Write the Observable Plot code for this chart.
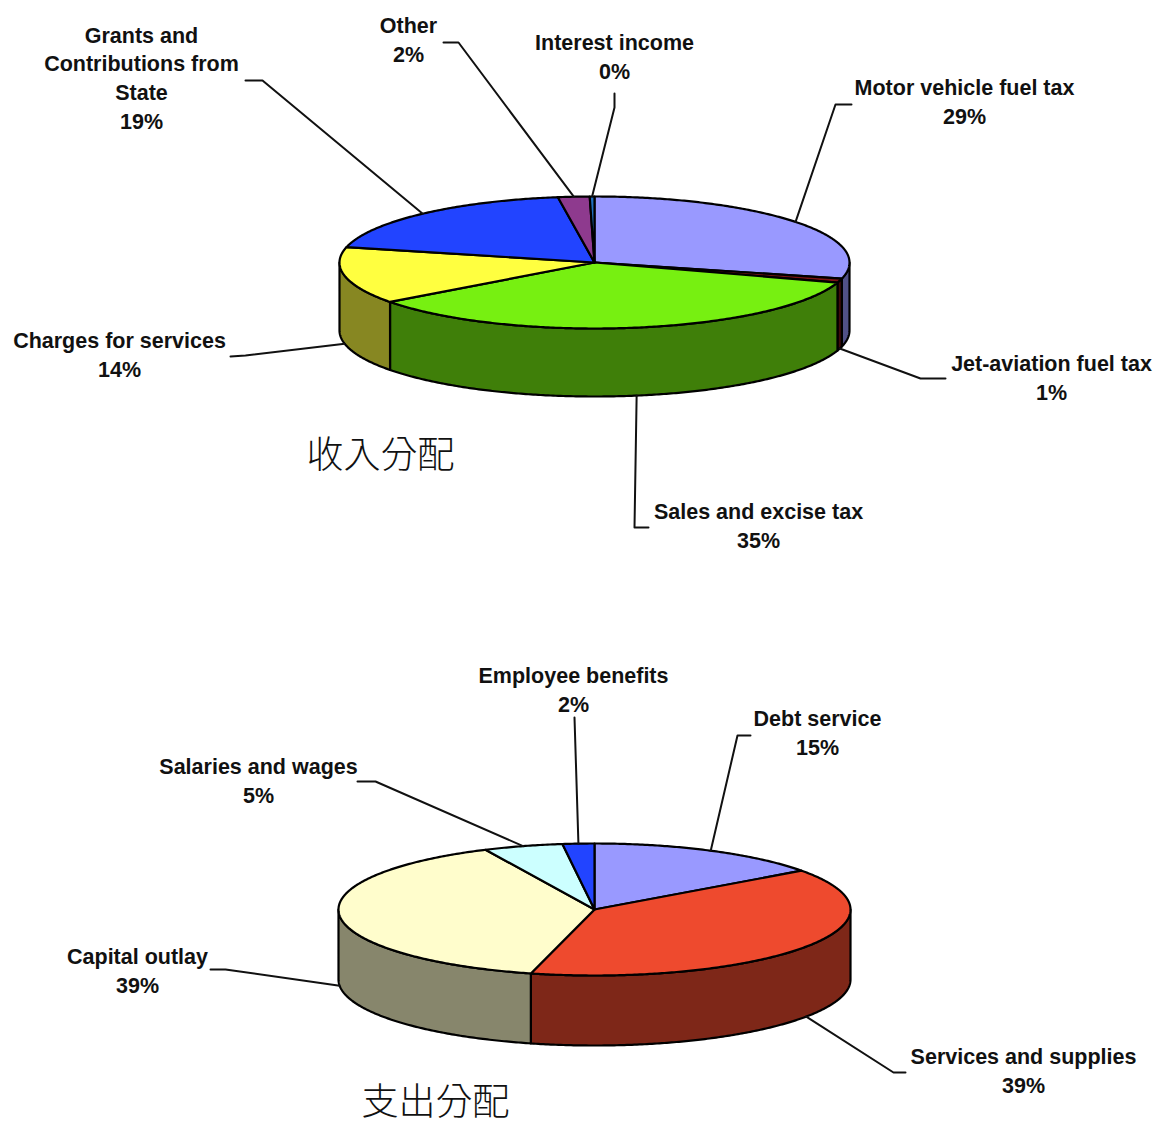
<!DOCTYPE html>
<html>
<head>
<meta charset="utf-8">
<script src="https://cdn.jsdelivr.net/npm/d3@7"></script>
<script src="https://cdn.jsdelivr.net/npm/@observablehq/plot@0.6"></script>
<style>
  html, body { margin: 0; padding: 0; background: #ffffff; }
  #chart svg { display: block; }
</style>
</head>
<body>
<div id="chart"></div>
<script>
// ---------- DATA ----------
const revenueCategories = [
  "Motor vehicle fuel tax",
  "Jet-aviation fuel tax",
  "Sales and excise tax",
  "Charges for services",
  "Grants and\nContributions from\nState",
  "Other",
  "Interest income"
];
const revenueValues = [29, 1, 35, 14, 19, 2, 0.3];
const revenueColors = ["#9999FF", "#7A1414", "#77F011", "#FFFF40", "#2244FF", "#8E3A8E", "#1F6FBF"];

const spendingCategories = [
  "Debt service",
  "Services and supplies",
  "Capital outlay",
  "Salaries and wages",
  "Employee benefits"
];
const spendingValues = [15, 39, 39, 5, 2];
const spendingColors = ["#9999FF", "#EE4A2E", "#FFFDCC", "#CCFFFF", "#2244FF"];

const chartTitles = ["收入分配", "支出分配"];

// ---------- LAYOUT (positions / sizes) ----------
const W = 1155, H = 1126;
const revenueGeo = {cx: 594, cy: 262, rx: 255, ry: 66, depth: 68};
const spendingGeo = {cx: 594, cy: 909, rx: 256, ry: 66, depth: 70};
// per label: text block centre and leader-line elbow points (after the pie anchor)
const revenueLabelLayout = [
  {tx: 964, ty: 100, path: [[835, 104], [851, 104]]},
  {tx: 1051, ty: 376, path: [[920, 378], [945, 378]]},
  {tx: 758, ty: 524, path: [[634, 527], [648, 527]]},
  {tx: 119, ty: 353, path: [[245, 355], [230, 356]]},
  {tx: 141, ty: 76, path: [[262, 80], [245, 80]]},
  {tx: 408, ty: 38, path: [[458, 42], [443, 42]]},
  {tx: 614, ty: 55, path: [[614, 107], [614, 93]]}
];
const spendingLabelLayout = [
  {tx: 817, ty: 731, path: [[737, 735], [750, 735]]},
  {tx: 1023, ty: 1069, path: [[893, 1072], [905, 1072]]},
  {tx: 137, ty: 969, path: [[225, 969], [210, 969]]},
  {tx: 258, ty: 779, path: [[375, 781], [357, 781]]},
  {tx: 573, ty: 688, path: [[574, 717]]}
];
const titleLayout = [{x: 380, y: 456}, {x: 435, y: 1103}];

function shade(c, k) {
  const r = d3.rgb(c);
  return d3.rgb(r.r * k, r.g * k, r.b * k).formatHex();
}

function buildPie(name, cats, vals, cols, geo, lay) {
  const total = d3.sum(vals);
  const arcs = d3.pie().sort(null).value(d => d)(vals);
  const px = a => geo.cx + geo.rx * Math.sin(a);
  const py = a => geo.cy - geo.ry * Math.cos(a);
  const tops = [], sides = [], leaders = [], labels = [];
  arcs.forEach((arc, i) => {
    const id = name + i;
    const s = arc.startAngle, e = arc.endAngle;
    const n = Math.max(2, Math.ceil((e - s) / 0.01));
    tops.push({id, x: geo.cx, y: geo.cy, fill: cols[i]});
    for (let k = 0; k <= n; k++) {
      const a = s + (e - s) * k / n;
      tops.push({id, x: px(a), y: py(a), fill: cols[i]});
    }
    const a0 = Math.max(s, Math.PI / 2), a1 = Math.min(e, 3 * Math.PI / 2);
    if (a1 > a0) {
      const m = Math.max(2, Math.ceil((a1 - a0) / 0.01));
      const sc = shade(cols[i], 0.53);
      const up = [], down = [];
      for (let k = 0; k <= m; k++) {
        const a = a0 + (a1 - a0) * k / m;
        up.push({id: id + "s", x: px(a), y: py(a), fill: sc});
        down.push({id: id + "s", x: px(a), y: py(a) + geo.depth, fill: sc});
      }
      sides.push(...up, ...down.reverse());
    }
    const mid = (s + e) / 2;
    const front = mid > Math.PI / 2 && mid < 3 * Math.PI / 2;
    leaders.push({id: id + "l", x: px(mid), y: py(mid) + (front ? geo.depth : 0)});
    lay[i].path.forEach(p => leaders.push({id: id + "l", x: p[0], y: p[1]}));
    labels.push({x: lay[i].tx, y: lay[i].ty, text: cats[i] + "\n" + Math.round(100 * vals[i] / total) + "%"});
  });
  return {tops, sides, leaders, labels};
}

const rev = buildPie("r", revenueCategories, revenueValues, revenueColors, revenueGeo, revenueLabelLayout);
const spd = buildPie("s", spendingCategories, spendingValues, spendingColors, spendingGeo, spendingLabelLayout);
const titles = chartTitles.map((t, i) => ({text: t, x: titleLayout[i].x, y: titleLayout[i].y}));

const pieMarks = p => [
  Plot.line(p.sides, {x: "x", y: "y", z: "id", fill: "fill", stroke: "#000", strokeWidth: 2.2, curve: "linear-closed", strokeLinejoin: "round"}),
  Plot.line(p.tops, {x: "x", y: "y", z: "id", fill: "fill", stroke: "#000", strokeWidth: 2.2, curve: "linear-closed", strokeLinejoin: "round"}),
  Plot.line(p.leaders, {x: "x", y: "y", z: "id", stroke: "#111", strokeWidth: 2}),
  Plot.text(p.labels, {x: "x", y: "y", text: "text", fontSize: 21.5, fontWeight: "bold", fontFamily: "'Liberation Sans', Arial, sans-serif", fill: "#111", lineHeight: 1.33, textAnchor: "middle"})
];

const chart = Plot.plot({
  width: W,
  height: H,
  margin: 0,
  x: {domain: [0, W], axis: null},
  y: {domain: [0, H], range: [0, H], axis: null},
  color: {type: "identity"},
  style: {background: "#fff"},
  marks: [
    ...pieMarks(rev),
    ...pieMarks(spd),
    Plot.text(titles, {x: "x", y: "y", text: "text", fontSize: 37, fontWeight: 300, fontFamily: "'Noto Sans CJK TC', 'Noto Sans CJK SC', sans-serif", fill: "#111"})
  ]
});
document.getElementById("chart").appendChild(chart);
</script>
</body>
</html>
